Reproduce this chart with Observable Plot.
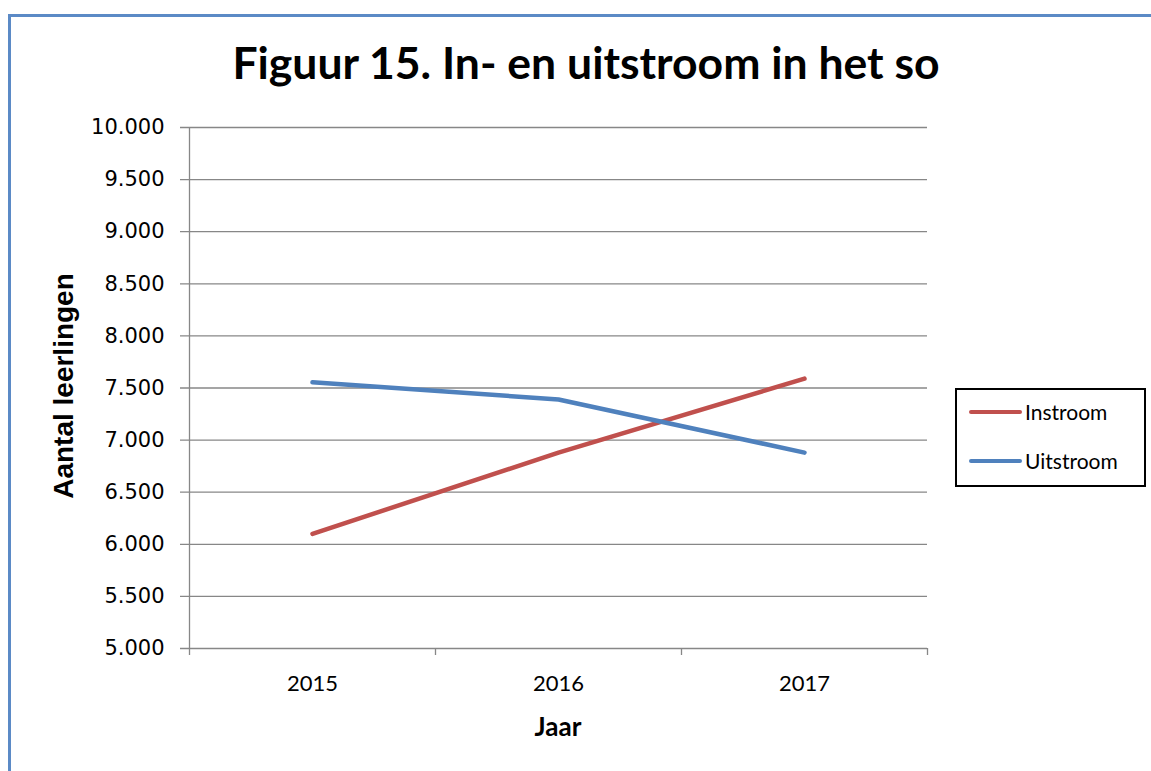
<!DOCTYPE html>
<html>
<head>
<meta charset="utf-8">
<script src="https://cdn.jsdelivr.net/npm/d3@7"></script>
<script src="https://cdn.jsdelivr.net/npm/@observablehq/plot@0.6"></script>
<style>
  html, body { margin: 0; padding: 0; background: #fff; }
  #wrap { position: relative; width: 1151px; height: 771px; overflow: hidden; }
  #frame { position: absolute; left: 8px; top: 14px; width: 1200px; height: 800px;
           border-left: 3px solid #5b8ac6; border-top: 3px solid #5b8ac6; box-sizing: border-box; }
  #chart { position: absolute; left: 0; top: 0; }
  #title { position: absolute; left: 0; width: 1172px; top: 35px; text-align: center;
           font-family: Lato, sans-serif; font-weight: bold; font-size: 44.5px; color: #000; }
  #ylabel { position: absolute; left: 64px; top: 386px; transform: translate(-50%, -50%) rotate(-90deg);
            font-family: "Liberation Sans", Arial, sans-serif; font-weight: bold; font-size: 28px; white-space: nowrap; }
  #xlabel { position: absolute; left: 558px; top: 726px; transform: translate(-50%, -50%);
            font-family: Lato, sans-serif; font-weight: bold; font-size: 26px; }
  #legend { position: absolute; left: 955px; top: 388px; width: 191px; height: 99px;
            border: 2px solid #000; box-sizing: border-box; font-family: Lato, sans-serif; font-size: 21px; }
  .item { position: absolute; left: 12px; display: flex; align-items: center; }
  .swatch { width: 53px; height: 4px; border-radius: 2px; }
</style>
</head>
<body>
<div id="wrap">
  <div id="frame"></div>
  <div id="chart"></div>
  <div id="title"></div>
  <div id="ylabel"></div>
  <div id="xlabel"></div>
  <div id="legend"></div>
</div>
<script>
const titleText = "Figuur 15. In- en uitstroom in het so";
const yTitle = "Aantal leerlingen";
const xTitle = "Jaar";
const years = [2015, 2016, 2017];
const seriesNames = ["Instroom", "Uitstroom"];
const instroom = [6100, 6880, 7590];
const uitstroom = [7555, 7390, 6880];
const colors = ["#c0504d", "#4f81bd"];
const yTicks = [5000, 5500, 6000, 6500, 7000, 7500, 8000, 8500, 9000, 9500, 10000];
const xBoundaries = [2014.5, 2015.5, 2016.5, 2017.5];

const data = [];
years.forEach((y, i) => {
  data.push({year: y, value: instroom[i], series: seriesNames[0]});
  data.push({year: y, value: uitstroom[i], series: seriesNames[1]});
});

const fmtY = v => {
  const s = String(v);
  return s.slice(0, s.length - 3) + "." + s.slice(-3);
};

const grid = "#878787";
const chart = Plot.plot({
  width: 1151,
  height: 771,
  marginLeft: 189,
  marginRight: 224,
  marginTop: 127,
  marginBottom: 123,
  style: {background: "transparent", overflow: "visible"},
  x: {type: "linear", domain: [2014.5, 2017.5]},
  y: {domain: [5000, 10000]},
  color: {domain: seriesNames, range: colors},
  marks: [
    Plot.ruleY(yTicks, {x1: 2014.5 - 9 / 246, x2: 2017.5, stroke: grid, strokeWidth: 1.3}),
    Plot.ruleX([2014.5], {y1: 5000, y2: 10000, stroke: grid, strokeWidth: 1.3}),
    Plot.ruleX(xBoundaries, {y1: 5000, y2: 5000 - 7 * 500 / 52, stroke: grid, strokeWidth: 1.3}),
    Plot.axisY(yTicks, {tickSize: 0, tickPadding: 25, tickFormat: fmtY,
      fontFamily: "DejaVu Sans", fontSize: 21, fill: "#000", label: null}),
    Plot.axisX(years, {tickSize: 0, tickPadding: 27, tickFormat: d => String(d),
      fontFamily: "Lato", fontSize: 22, fill: "#000", label: null}),
    Plot.line(data, {x: "year", y: "value", z: "series", stroke: "series",
      strokeWidth: 4.5, strokeLinecap: "round", strokeLinejoin: "round"})
  ]
});
document.getElementById("chart").appendChild(chart);

document.getElementById("title").textContent = titleText;
document.getElementById("ylabel").textContent = yTitle;
document.getElementById("xlabel").textContent = xTitle;

const legend = document.getElementById("legend");
seriesNames.forEach((name, i) => {
  const item = document.createElement("div");
  item.className = "item";
  item.style.top = (i === 0 ? 9 : 58) + "px";
  const sw = document.createElement("div");
  sw.className = "swatch";
  sw.style.background = colors[i];
  const tx = document.createElement("span");
  tx.textContent = name;
  tx.style.marginLeft = "3px";
  item.appendChild(sw);
  item.appendChild(tx);
  legend.appendChild(item);
});
</script>
</body>
</html>
